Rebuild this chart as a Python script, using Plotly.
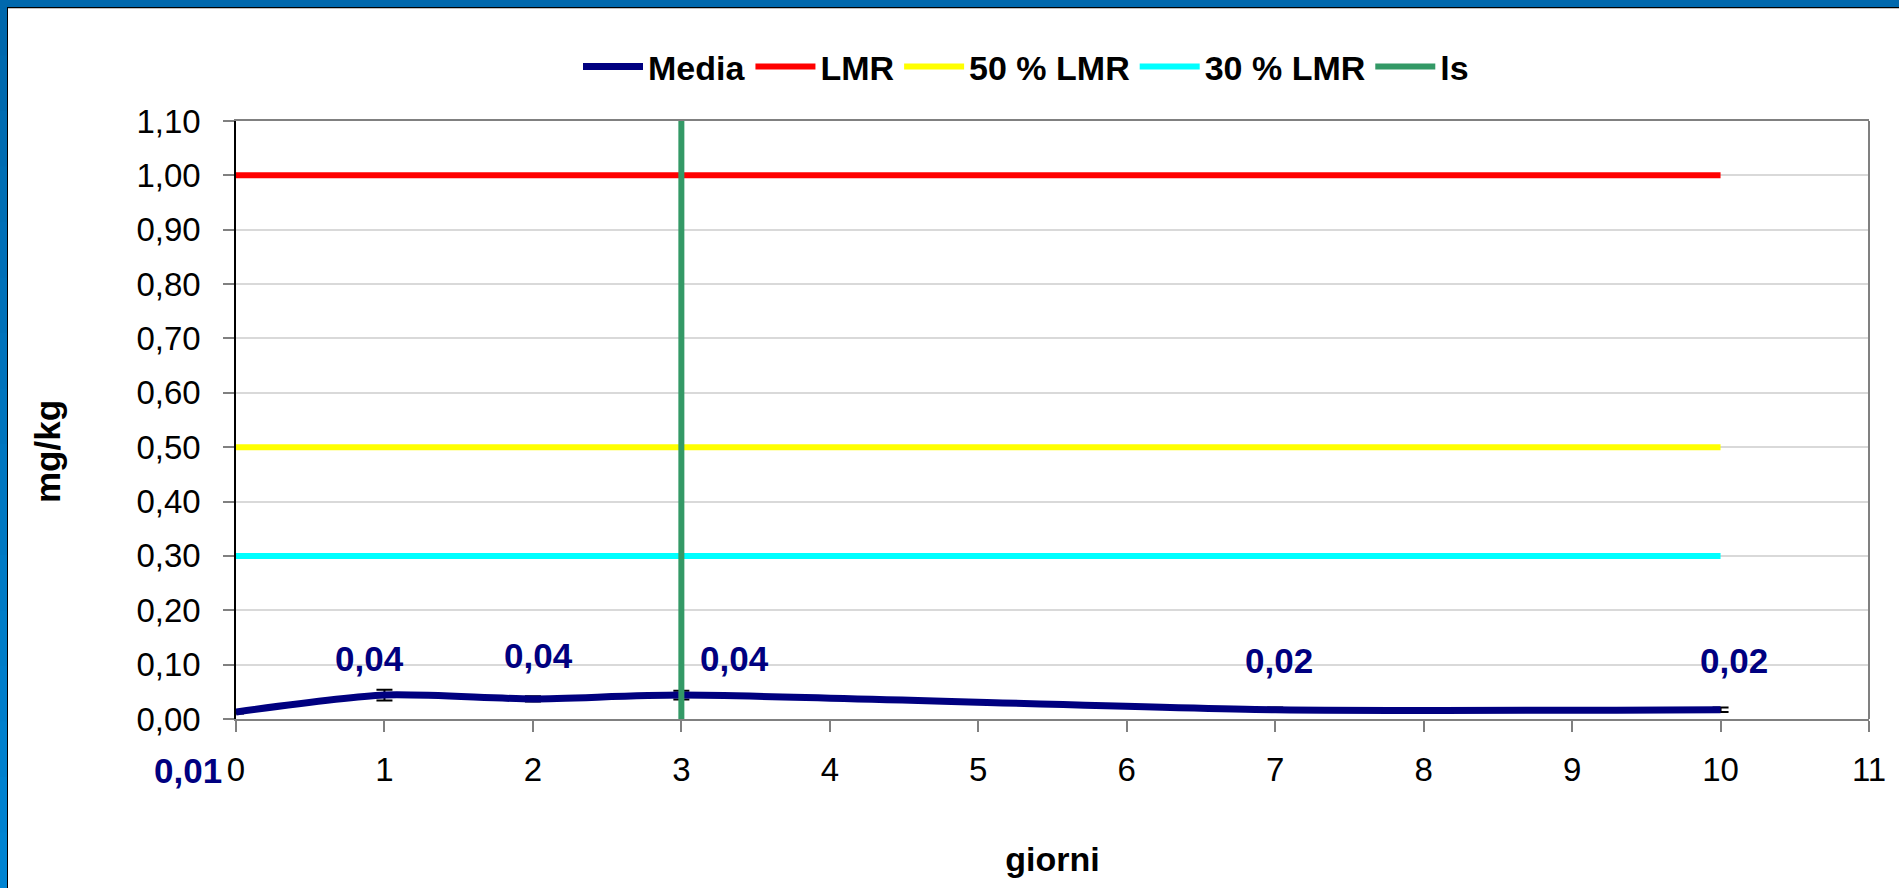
import plotly.graph_objects as go

# ---------------- data ----------------
days = [0, 1, 2, 3, 7, 10]
media = [0.013, 0.044, 0.037, 0.044, 0.017, 0.017]
media_err = [0.003, 0.010, 0.005, 0.008, 0.004, 0.004]

limit_days = [0, 10]
lmr = [1.0, 1.0]
lmr50 = [0.5, 0.5]
lmr30 = [0.3, 0.3]

ls_day = [3, 3]
ls_vals = [0.0, 1.1]

x_ticks = list(range(0, 12))
y_ticks = [round(i * 0.1, 2) for i in range(0, 12)]

# label offsets in pixels (style only)
label_dx = [-48, -15, 6, 53, 4, 13]
label_dy = [-59, 37, 43, 37, 49, 49]

# ---------------- layout geometry ----------------
W, H = 1899, 888
L, R, T, B = 236, 1869, 121, 719
FONT = "Liberation Sans, Arial, sans-serif"
NAVY = "#000080"


def px(x):
    return (x - L) / (R - L)


def py(y):
    return (B - y) / (B - T)


fig = go.Figure()

fig.add_trace(go.Scatter(
    x=days, y=media, name="Media", mode="lines",
    line=dict(color=NAVY, width=7, shape="spline", smoothing=0.7),
    error_y=dict(type="data", array=media_err, visible=True,
                 color="black", thickness=2, width=8),
))
fig.add_trace(go.Scatter(x=limit_days, y=lmr, name="LMR", mode="lines",
                         line=dict(color="#FF0000", width=6)))
fig.add_trace(go.Scatter(x=limit_days, y=lmr50, name="50 % LMR", mode="lines",
                         line=dict(color="#FFFF00", width=6)))
fig.add_trace(go.Scatter(x=limit_days, y=lmr30, name="30 % LMR", mode="lines",
                         line=dict(color="#00FFFF", width=6)))
fig.add_trace(go.Scatter(x=ls_day, y=ls_vals, name="ls", mode="lines",
                         line=dict(color="#339966", width=6)))

# data labels
for d, v, dx, dy in zip(days, media, label_dx, label_dy):
    fig.add_annotation(x=d, y=v, text=f"{v:.2f}".replace(".", ","),
                       showarrow=False, xshift=dx, yshift=dy,
                       xanchor="center", yanchor="middle",
                       font=dict(family=FONT, size=35, color=NAVY, weight="bold"))

# y-axis title (placed below the plot-area centre, as in the original)
fig.add_annotation(xref="paper", yref="paper", x=px(47), y=py(452),
                   text="mg/kg", textangle=-90, showarrow=False,
                   xanchor="center", yanchor="middle",
                   font=dict(family=FONT, size=35, color="black", weight="bold"))

# frame (blue border on left/top)
shapes = []
n = 16
top_c = (0, 104, 173)
bot_c = (0, 132, 210)
for i in range(n):
    t = i / (n - 1)
    c = tuple(round(top_c[k] + (bot_c[k] - top_c[k]) * t) for k in range(3))
    y0 = i * H / n
    y1 = (i + 1) * H / n + 1
    shapes.append(dict(type="rect", xref="paper", yref="paper",
                       x0=px(0), x1=px(7), y0=py(y1), y1=py(y0),
                       fillcolor=f"rgb{c}", line=dict(width=0), layer="above"))
shapes.append(dict(type="rect", xref="paper", yref="paper",
                   x0=px(0), x1=px(W), y0=py(7), y1=py(0),
                   fillcolor="rgb(0,104,173)", line=dict(width=0), layer="above"))
shapes.append(dict(type="line", xref="paper", yref="paper",
                   x0=px(7.5), x1=px(7.5), y0=py(H), y1=py(7),
                   line=dict(color="black", width=1), layer="above"))
shapes.append(dict(type="line", xref="paper", yref="paper",
                   x0=px(7), x1=px(W), y0=py(7.5), y1=py(7.5),
                   line=dict(color="black", width=1), layer="above"))
shapes.append(dict(type="line", xref="paper", yref="paper",
                   x0=px(8), x1=px(W), y0=py(8.5), y1=py(8.5),
                   line=dict(color="#C0C0C0", width=1), layer="above"))
# right border of plot area
shapes.append(dict(type="line", xref="paper", yref="paper",
                   x0=1, x1=1, y0=0, y1=1,
                   line=dict(color="#808080", width=2), layer="above"))

fig.update_layout(
    width=W, height=H,
    margin=dict(l=L, r=W - R, t=T, b=H - B, autoexpand=False),
    paper_bgcolor="white", plot_bgcolor="white",
    separators=",.",
    font=dict(family=FONT, size=33, color="black"),
    showlegend=True,
    legend=dict(orientation="h", x=px(1026), xanchor="center",
                y=py(67), yanchor="middle",
                font=dict(family=FONT, size=34, color="black", weight="bold"),
                bgcolor="rgba(0,0,0,0)", itemwidth=60, tracegroupgap=0),
    shapes=shapes,
    xaxis=dict(range=[0, 11], tickvals=x_ticks, ticks="outside", ticklen=11,
               tickcolor="#808080", tickwidth=2,
               showline=True, linecolor="#808080", linewidth=2, mirror=True,
               showgrid=False, zeroline=False, ticklabelstandoff=9,
               tickfont=dict(family=FONT, size=33),
               title=dict(text="giorni", standoff=61,
                          font=dict(family=FONT, size=34, weight="bold"))),
    yaxis=dict(range=[0, 1.1], tickvals=y_ticks, tickformat=".2f",
               ticks="outside", ticklen=11, tickcolor="#808080", tickwidth=2,
               showline=True, linecolor="black", linewidth=1.5,
               showgrid=True, gridcolor="#D9D9D9", gridwidth=1.5,
               zeroline=False, ticklabelstandoff=16,
               tickfont=dict(family=FONT, size=33)),
)

fig.write_html(
    "out.html",
    config={"displayModeBar": False},
    post_script="var de=document.documentElement, bd=document.body;"
                "de.style.margin='0'; de.style.padding='0';"
                "de.style.overflow='hidden'; de.style.background='white';"
                "bd.style.margin='0'; bd.style.padding='0';"
                "bd.style.overflow='hidden'; bd.style.background='white';",
)
